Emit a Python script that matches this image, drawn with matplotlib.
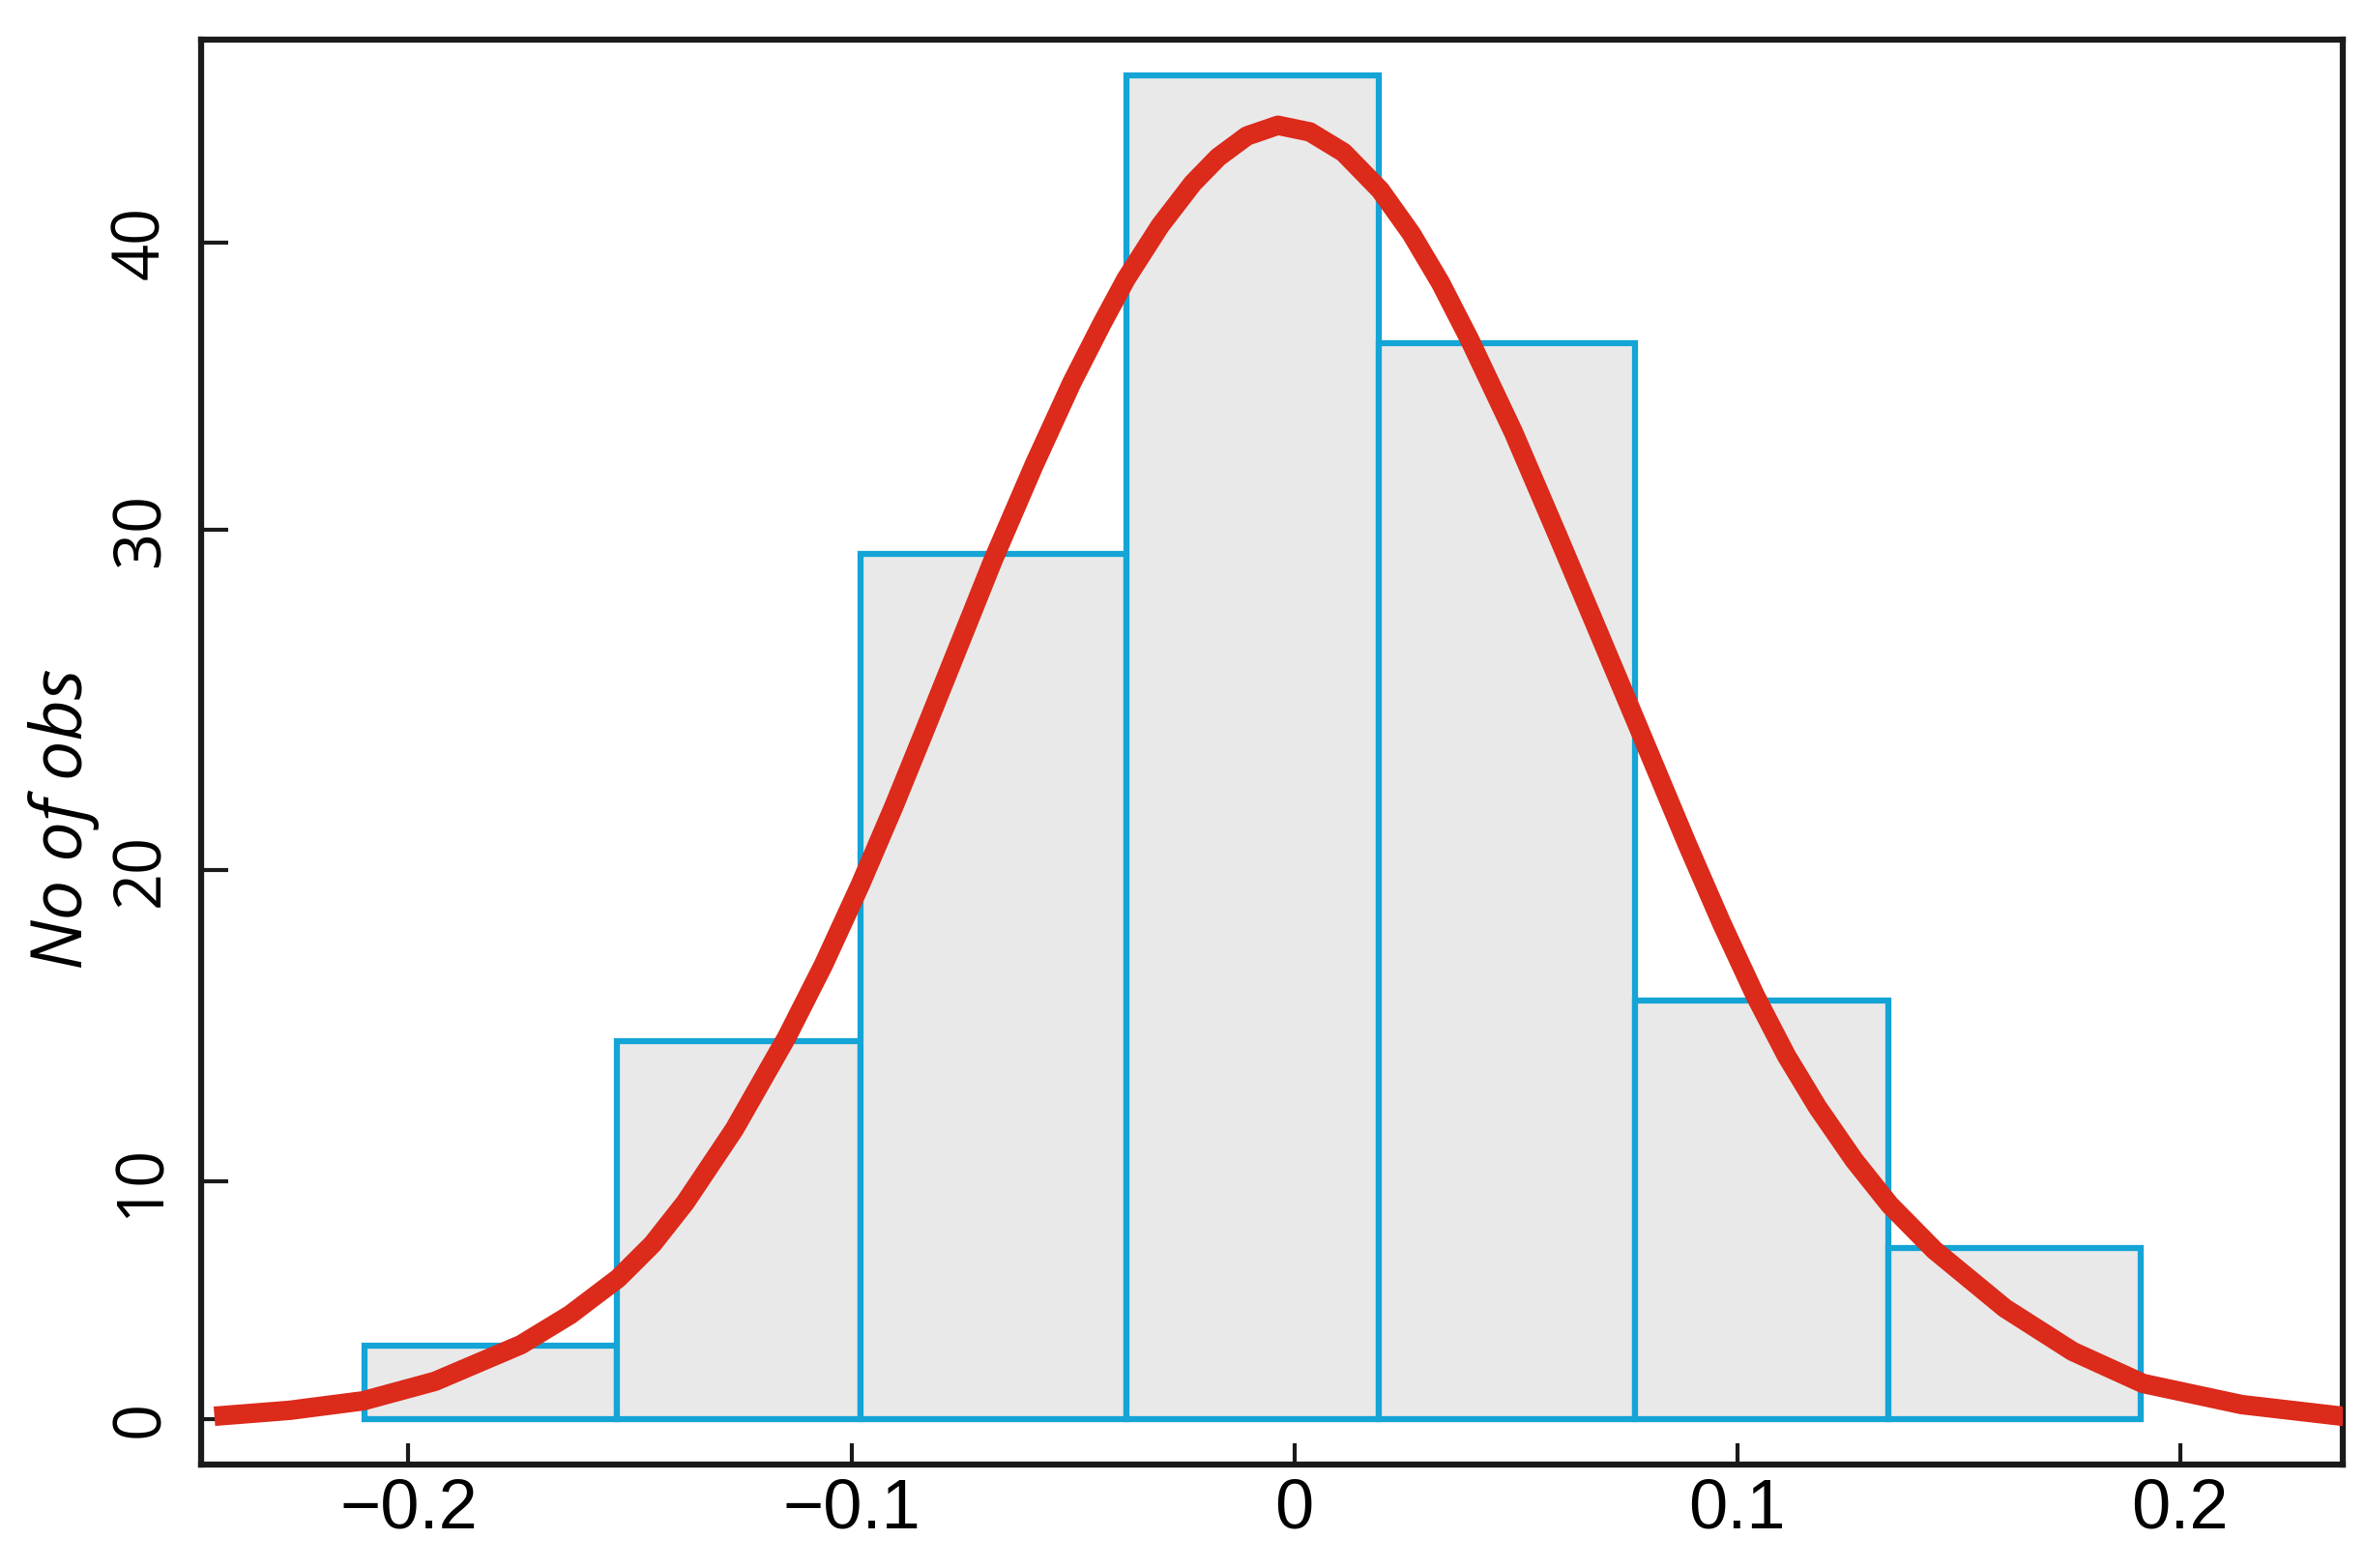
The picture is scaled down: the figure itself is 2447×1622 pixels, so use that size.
import numpy as np
import matplotlib
matplotlib.use("Agg")
import matplotlib.pyplot as plt
from matplotlib import font_manager

# histogram bins and counts
bin_edges = [-0.210, -0.153, -0.098, -0.038, 0.019, 0.077, 0.134, 0.191]
counts = [3.1, 14.5, 29.3, 45.8, 36.5, 15.8, 7.2]

# fitted normal curve
curve_x = [-0.2438, -0.2268, -0.2102, -0.1940, -0.1746, -0.1635, -0.1526, -0.1449,
           -0.1375, -0.1264, -0.1146, -0.1063, -0.0980, -0.0904, -0.0834, -0.0755,
           -0.0679, -0.0587, -0.0502, -0.0434, -0.0380, -0.0303, -0.0229, -0.0172,
           -0.0107, -0.0037, 0.0035, 0.0111, 0.0194, 0.0264, 0.0330, 0.0395,
           0.0495, 0.0596, 0.0685, 0.0775, 0.0888, 0.0965, 0.1041, 0.1111,
           0.1181, 0.1264, 0.1344, 0.1445, 0.1604, 0.1757, 0.1916, 0.2139,
           0.2366, 0.2414]
curve_y = [0.12, 0.37, 0.77, 1.59, 3.13, 4.39, 5.93, 7.36,
           9.11, 11.68, 14.63, 16.96, 19.53, 21.88, 24.12, 26.68,
           29.15, 32.28, 35.13, 37.18, 38.72, 40.57, 42.05, 42.95,
           43.69, 44.06, 43.83, 43.12, 41.81, 40.30, 38.59, 36.64,
           33.39, 29.80, 27.05, 24.26, 20.74, 18.29, 15.96, 14.04,
           12.39, 10.68, 9.02, 7.11, 4.67, 2.85, 1.50, 0.61,
           0.12, 0.08]

x_ticks = [-0.2, -0.1, 0, 0.1, 0.2]
x_labels = ["\u22120.2", "\u22120.1", "0", "0.1", "0.2"]
y_ticks = [0, 10, 20, 30, 40]

# the printed y axis is not evenly spaced: piecewise scale through the tick marks
scale_val = [-10, 0, 10, 20, 30, 40, 60]
scale_pos = [-199, 47, 293, 615, 967, 1265, 1861]


def fwd(v):
    return np.interp(v, scale_val, scale_pos)


def inv(p):
    return np.interp(p, scale_pos, scale_val)


names = {f.name for f in font_manager.fontManager.ttflist}
narrow = "Liberation Sans Narrow" if "Liberation Sans Narrow" in names else "Liberation Sans"

fig = plt.figure(figsize=(24.47, 16.22), dpi=100)
ax = fig.add_axes([0.085, 0.066, 0.905, 0.909])
ax.set_yscale("function", functions=(fwd, inv))

ax.bar(bin_edges[:-1], counts, width=np.diff(bin_edges), align="edge",
       color="#e9e9e9", edgecolor="#14a4d6", linewidth=4.5, zorder=2)
ax.plot(curve_x, curve_y, color="#dc2a1b", linewidth=14.5,
        solid_capstyle="butt", solid_joinstyle="round", zorder=3)

ax.set_xlim(-0.2468, 0.2366)
ax.set_ylim(-1.91, 47.05)

ax.set_xticks(x_ticks)
ax.set_xticklabels(x_labels, fontsize=52, family=narrow)
ax.set_yticks(y_ticks)
ax.set_yticklabels([str(t) for t in y_ticks], fontsize=48, family="Open Sans",
                   rotation=90, va="center")
ax.yaxis.set_minor_locator(plt.NullLocator())

ax.tick_params(axis="y", direction="in", length=20, width=3, pad=20, color="#1a1a1a")
ax.tick_params(axis="x", direction="in", length=16, width=3, pad=10, color="#1a1a1a")

for s in ax.spines.values():
    s.set_linewidth(4.5)
    s.set_color("#1a1a1a")

ax.set_ylabel("No of obs", fontsize=53, family="Open Sans", style="italic")
ax.yaxis.label.set_va("center")
ax.yaxis.set_label_coords(-0.064, 0.453)

fig.savefig("out.png", dpi=100)
